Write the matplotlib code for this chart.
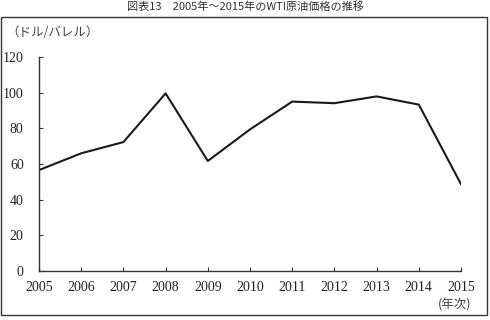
import matplotlib
matplotlib.use("Agg")
import matplotlib.pyplot as plt
from matplotlib.patches import Rectangle

years = [2005, 2006, 2007, 2008, 2009, 2010, 2011, 2012, 2013, 2014, 2015]
prices = [56.6, 66.0, 72.3, 99.6, 61.7, 79.4, 95.0, 94.1, 97.9, 93.3, 48.7]
yticks = [0, 20, 40, 60, 80, 100, 120]

title = "図表13　2005年～2015年のWTI原油価格の推移"
ylabel = "（ドル/バレル）"
xlabel = "(年次)"

serif = ["Liberation Serif", "DejaVu Serif"]
jp = ["Noto Sans CJK JP", "DejaVu Sans"]

fig = plt.figure(figsize=(4.9, 3.2), dpi=100)
W, H = 490, 320

# outer frame
fig.patches.append(Rectangle((1 / W, (H - 315) / H), 486 / W, 298 / H,
                             transform=fig.transFigure, fill=False,
                             edgecolor="#333333", linewidth=1.0))

# title
fig.text(0.5, (H - 7) / H, title, ha="center", va="center", fontsize=8,
         family=jp, color="#333333")

ax = fig.add_axes([39 / W, (H - 271) / H, 422 / W, 214 / H])
ax.plot(years, prices, color="#1a1a1a", linewidth=1.5)
ax.set_xlim(2005, 2015)
ax.set_ylim(0, 120)
ax.set_xticks(years)
ax.set_yticks(yticks)
ax.set_xticklabels([str(y) for y in years], family=serif, fontsize=10)
ax.set_yticklabels([str(v) for v in yticks], family=serif, fontsize=10)
for s in ["top", "right"]:
    ax.spines[s].set_visible(False)
for s in ["left", "bottom"]:
    ax.spines[s].set_color("#333333")
    ax.spines[s].set_linewidth(1.0)
ax.tick_params(direction="in", length=3, color="#333333", labelcolor="#222222")
ax.tick_params(axis="x", pad=7)
ax.tick_params(axis="y", pad=11)

fig.text(6 / W, (H - 33) / H, ylabel, ha="left", va="center", fontsize=9,
         family=jp, color="#444444")
fig.text(455 / W, (H - 305) / H, xlabel, ha="center", va="center", fontsize=9,
         family=jp, color="#444444")

fig.savefig("out.png", dpi=100)
